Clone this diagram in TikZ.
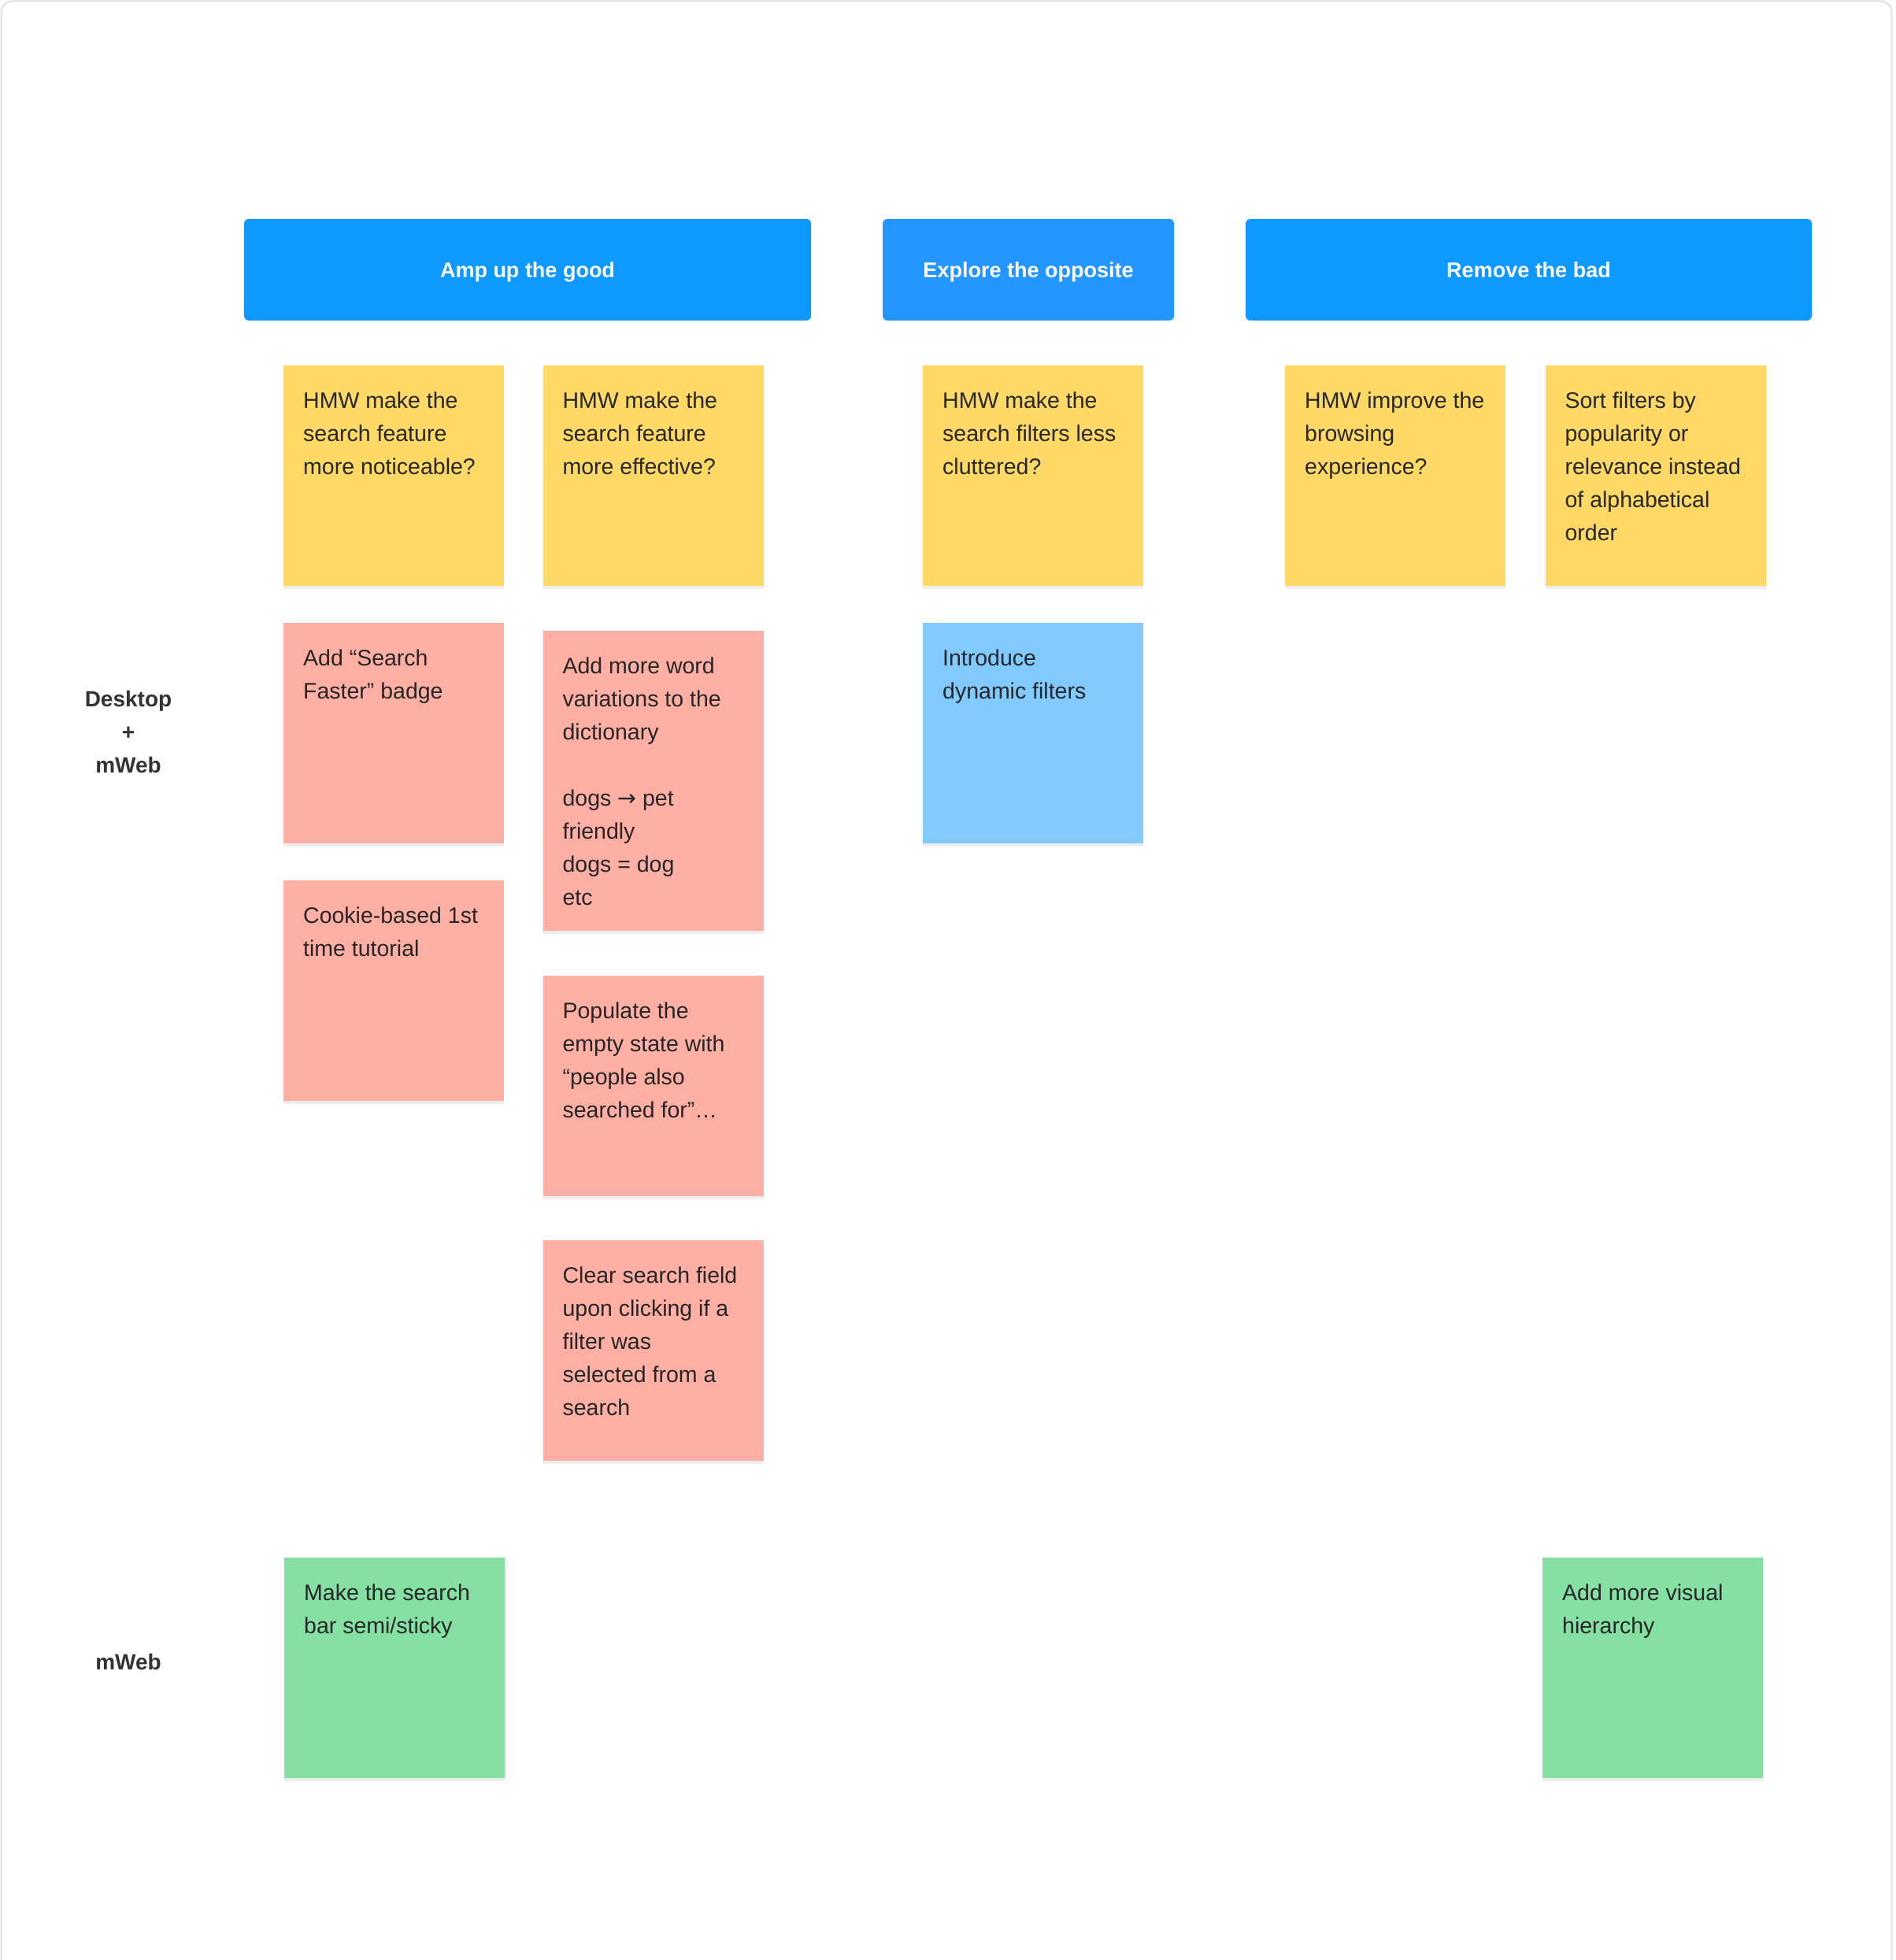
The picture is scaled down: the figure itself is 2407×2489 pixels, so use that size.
\documentclass[tikz,border=0pt]{standalone}
\usepackage{fontspec}
\setmainfont{Liberation Sans}
\newfontfamily\arrowfont{DejaVu Sans}
\usetikzlibrary{positioning, shadows}

\definecolor{hdrblue}{HTML}{0D99FF}
\definecolor{hdrblueb}{HTML}{2496FF}
\definecolor{noteyellow}{HTML}{FFD966}
\definecolor{notered}{HTML}{FFAFA3}
\definecolor{noteblue}{HTML}{80CAFF}
\definecolor{notegreen}{HTML}{85E0A3}
\definecolor{notetext}{HTML}{262626}
\definecolor{rowtext}{HTML}{333333}
\definecolor{framegray}{HTML}{E6E6E6}

\newcommand{\notebody}[2][230pt]{\parbox[t][#1][t]{230pt}{\raggedright\strut #2}}

\tikzstyle{header} = [rectangle, rounded corners=6pt, minimum height=129pt, inner sep=0, text height=19.5pt, text depth=0pt, text=white, font=\fontsize{27}{36}\selectfont\bfseries]
\tikzstyle{note} = [rectangle, anchor=north west, inner sep=25pt, text=notetext, font=\fontsize{28.5}{42}\selectfont, drop shadow={shadow xshift=0pt, shadow yshift=-4pt, opacity=0.07, fill=black}]
\tikzstyle{noteY} = [note, fill=noteyellow]
\tikzstyle{noteR} = [note, fill=notered]
\tikzstyle{noteB} = [note, fill=noteblue]
\tikzstyle{noteG} = [note, fill=notegreen]
\tikzstyle{rowlabel} = [inner sep=0, text width=160pt, align=center, text=rowtext, font=\fontsize{28}{42}\selectfont\bfseries]

\begin{document}
\begin{tikzpicture}[x=1pt, y=-1pt]

\fill[white] (0,0) rectangle (2407,2489);
\useasboundingbox (0,0) rectangle (2407,2489);
\draw[framegray, line width=2.5pt, rounded corners=14pt] (1.5,2489) -- (1.5,1.5) -- (2402.5,1.5) -- (2402.5,2489);

\node [header, fill=hdrblue, minimum width=720pt] (amp) at (670,342.5) {Amp up the good};
\node [header, fill=hdrblueb, minimum width=370pt] (opp) at (1306,342.5) {Explore the opposite};
\node [header, fill=hdrblue, minimum width=719pt] (bad) at (1941.5,342.5) {Remove the bad};

\node [noteY] (hmwA) at (360,464) {\notebody{HMW make the\\search feature\\more noticeable?}};
\node [noteY, right=49pt of hmwA] (hmwB) {\notebody{HMW make the\\search feature\\more effective?}};
\node [noteY] (hmwC) at (1172,464) {\notebody{HMW make the\\search filters less\\cluttered?}};
\node [noteY] (hmwD) at (1632,464) {\notebody{HMW improve the\\browsing\\experience?}};
\node [noteY, right=50pt of hmwD] (sortE) {\notebody{Sort filters by\\popularity or\\relevance instead\\of alphabetical\\order}};

\node [noteR, below=46pt of hmwA] (badgeA) {\notebody{Add “Search\\Faster” badge}};
\node [noteR, below=47pt of badgeA] (cookieA) {\notebody{Cookie-based 1st\\time tutorial}};
\node [noteR, below=56pt of hmwB] (wordsB) {\notebody[331pt]{Add more word\\variations to the\\dictionary\\[42pt]dogs {\arrowfont →} pet\\friendly\\dogs = dog\\etc}};
\node [noteR, below=57pt of wordsB] (popB) {\notebody{Populate the\\empty state with\\“people also\\searched for”…}};
\node [noteR, below=56pt of popB] (clearB) {\notebody{Clear search field\\upon clicking if a\\filter was\\selected from a\\search}};
\node [noteB, below=46pt of hmwC] (dynC) {\notebody{Introduce\\dynamic filters}};

\node [noteG] (stickyA) at (361,1977.5) {\notebody{Make the search\\bar semi/sticky}};
\node [noteG] (visualE) at (1959,1977.5) {\notebody{Add more visual\\hierarchy}};

\node [rowlabel, anchor=north] (desk) at (163,867.6) {\strut Desktop\\+\\mWeb};
\node [rowlabel, anchor=base] (mweb) at (163,2120) {mWeb};

\end{tikzpicture}
\end{document}
